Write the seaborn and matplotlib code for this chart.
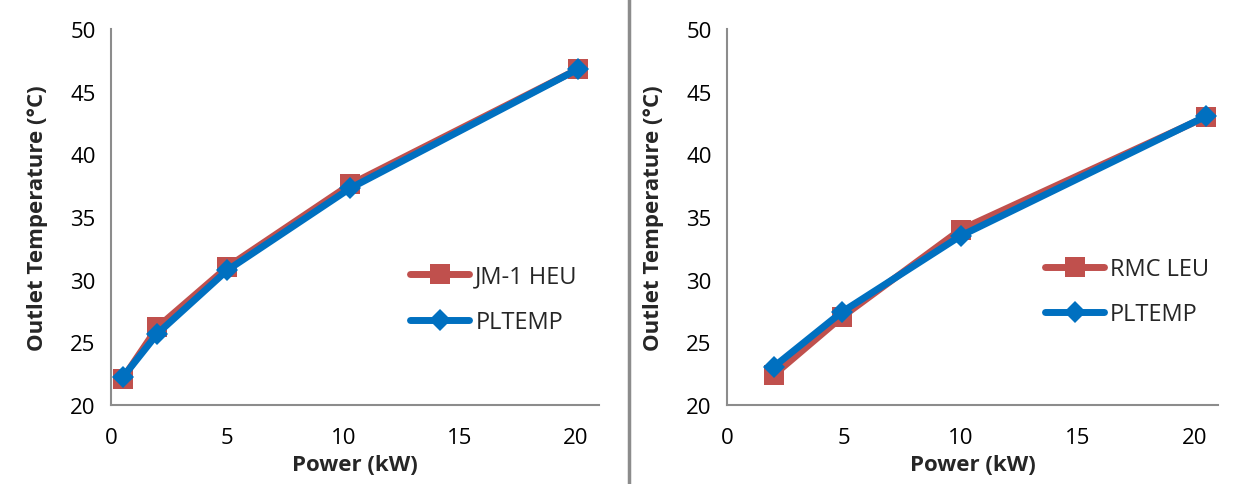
import pandas as pd
import seaborn as sns
import matplotlib.pyplot as plt
from matplotlib.lines import Line2D

# Dados
heu_power = [0.5, 2.0, 5.0, 10.3, 20.1]
heu_exp = [22.1, 26.2, 31.0, 37.6, 46.8]
heu_pltemp = [22.2, 25.7, 30.75, 37.3, 46.8]

leu_power = [2.0, 4.9, 10.0, 20.5]
leu_exp = [22.4, 27.0, 34.0, 43.0]
leu_pltemp = [23.05, 27.4, 33.5, 43.05]

yticks = [20, 25, 30, 35, 40, 45, 50]
xticks = [0, 5, 10, 15, 20]

RED = '#C0504D'
BLUE = '#0070C0'
GRAY = '#8C8C8C'

sns.set_style('white')
plt.rcParams['font.family'] = ['Open Sans', 'DejaVu Sans']

fig = plt.figure(figsize=(12.52, 4.85), dpi=100)
W, H = 1252, 485
ax1 = fig.add_axes([111 / W, 1 - 406 / H, 488 / W, 376 / H])
ax2 = fig.add_axes([727 / W, 1 - 406 / H, 491 / W, 376 / H])

paineis = [
    (ax1, heu_power, heu_exp, heu_pltemp, 'JM-1 HEU', (0.57, 0.43)),
    (ax2, leu_power, leu_exp, leu_pltemp, 'RMC LEU', (0.605, 0.45)),
]

for ax, p, exp, calc, nome, pos in paineis:
    df = pd.DataFrame({'Power': p + p,
                       'Temp': exp + calc,
                       'Serie': [nome] * len(p) + ['PLTEMP'] * len(p)})
    sns.lineplot(data=df[df['Serie'] == nome], x='Power', y='Temp', ax=ax,
                 color=RED, linewidth=5, marker='s', markersize=15,
                 markeredgewidth=0, label=nome)
    sns.lineplot(data=df[df['Serie'] == 'PLTEMP'], x='Power', y='Temp', ax=ax,
                 color=BLUE, linewidth=5, marker='D', markersize=11,
                 markeredgewidth=0, label='PLTEMP')
    ax.set_xlim(0, 21)
    ax.set_ylim(20, 50)
    ax.set_xticks(xticks)
    ax.set_yticks(yticks)
    ax.tick_params(axis='both', labelsize=16, colors=GRAY, length=6,
                   width=1.5, direction='out', labelcolor='black', pad=5)
    ax.tick_params(axis='x', pad=10)
    for lado in ['top', 'right']:
        ax.spines[lado].set_visible(False)
    for lado in ['left', 'bottom']:
        ax.spines[lado].set_color(GRAY)
        ax.spines[lado].set_linewidth(1.5)
    ax.set_xlabel('Power (kW)', fontsize=16, fontweight='bold', labelpad=4)
    ax.set_ylabel('Outlet Temperature (°C)', fontsize=16, fontweight='bold',
                  labelpad=16)
    ax.legend(loc='upper left', bbox_to_anchor=pos, frameon=False,
              fontsize=17, handlelength=2.5, labelspacing=0.9,
              handletextpad=0.25)

# Linha separadora entre os painéis
fig.add_artist(Line2D([629 / W, 629 / W], [0, 1], color=GRAY, linewidth=2.5))

plt.savefig('out.png', dpi=100)
